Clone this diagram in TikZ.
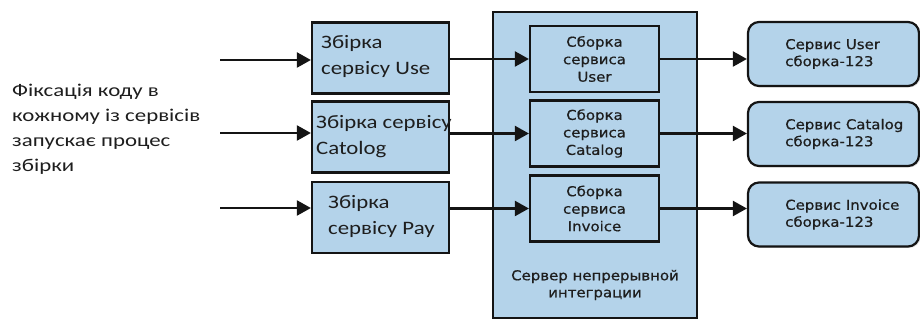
\documentclass[tikz,border=0pt]{standalone}
\usepackage{fontspec}
\setmainfont[FakeStretch=1.2]{Carlito}
\newfontfamily\noteFont[FakeStretch=1.27]{Carlito}
\newfontfamily\ciSans[FakeStretch=1.1, FakeBold=0.6]{DejaVu Sans}
\usetikzlibrary{arrows.meta, positioning, calc, shadows}
\definecolor{ciBlue}{RGB}{180, 211, 234}
\definecolor{ciLine}{RGB}{20, 20, 20}
\definecolor{ciText}{RGB}{30, 30, 30}

\begin{document}
\begin{tikzpicture}[x=1pt, y=-1pt,
    build/.style={rectangle, draw=ciLine, fill=ciBlue, line width=2.2pt, minimum width=137pt, minimum height=71pt, inner sep=0pt},
    buildtxt/.style={anchor=west, inner sep=0pt, align=left, text=ciText, font=\fontsize{19}{26}\selectfont},
    job/.style={rectangle, draw=ciLine, fill=ciBlue, line width=2.2pt, minimum width=129pt, minimum height=66pt, inner sep=0pt, align=center, text=ciText, font=\ciSans\fontsize{13.6}{17.5}\selectfont},
    server/.style={rectangle, draw=ciLine, fill=ciBlue, line width=2.2pt, minimum width=204pt, minimum height=306pt},
    artifact/.style={rectangle, rounded corners=11pt, draw=ciLine, fill=ciBlue, line width=2.2pt, minimum width=171pt, minimum height=64pt, drop shadow={opacity=0.25, shadow xshift=1.5pt, shadow yshift=-1.5pt}},
    outtxt/.style={anchor=west, inner sep=0pt, align=left, text=ciText, font=\ciSans\fontsize{13.6}{17}\selectfont},
    arr/.style={-{Triangle[length=14pt, width=15pt]}, line width=2.2pt, ciLine}
  ]
    \useasboundingbox (0,0) rectangle (920,320);

    \node[anchor=north west, inner sep=0pt, align=left, text=ciText, font=\noteFont\fontsize{18}{25}\selectfont] (note) at (12,84)
      {Фіксація коду в\\кожному із сервісів\\запускає процес\\збірки};

    \node[server] (ci) at (595,165) {};
    \node[text=ciText, align=center, font=\ciSans\fontsize{13.6}{17}\selectfont] (citxt) at (595,285) {Сервер непрерывной\\интеграции};

    \node[build] (b1) at (380.5,58) {};
    \node[build] (b2) at (380.5,137) {};
    \node[build] (b3) at (380.5,217.5) {};
    \node[buildtxt] (b1t) at (321,56) {Збірка\\сервісу Use};
    \node[buildtxt] (b2t) at (316,136.5) {Збірка сервісу\\Catolog};
    \node[buildtxt] (b3t) at (328,216) {Збірка\\сервісу Pay};

    \node[job] (j1) at (594.5,59) {Сборка\\сервиса\\User};
    \node[job] (j2) at (594.5,133.5) {Сборка\\сервиса\\Catalog};
    \node[job] (j3) at (594.5,208.5) {Сборка\\сервиса\\Invoice};

    \node[artifact] (a1) at (833.5,54) {};
    \node[artifact] (a2) at (833.5,134) {};
    \node[artifact] (a3) at (833.5,214.5) {};
    \node[outtxt] (a1t) at (785,54) {Сервис User\\сборка-123};
    \node[outtxt] (a2t) at (785,134) {Сервис Catalog\\сборка-123};
    \node[outtxt] (a3t) at (785,214.5) {Сервис Invoice\\сборка-123};

    \coordinate (in1) at (220,60);
    \coordinate (in2) at (220,133);
    \coordinate (in3) at (220,208);

    \draw[arr] (in1) -- (in1 -| b1.west);
    \draw[arr] (in2) -- (in2 -| b2.west);
    \draw[arr] (in3) -- (in3 -| b3.west);
    \draw[arr] (b1.east |- j1.west) -- (j1.west);
    \draw[arr] (b2.east |- j2.west) -- (j2.west);
    \draw[arr] (b3.east |- j3.west) -- (j3.west);
    \draw[arr] (j1.east) -- (j1.east -| a1.west);
    \draw[arr] (j2.east) -- (j2.east -| a2.west);
    \draw[arr] (j3.east) -- (j3.east -| a3.west);
  \end{tikzpicture}
\end{document}
